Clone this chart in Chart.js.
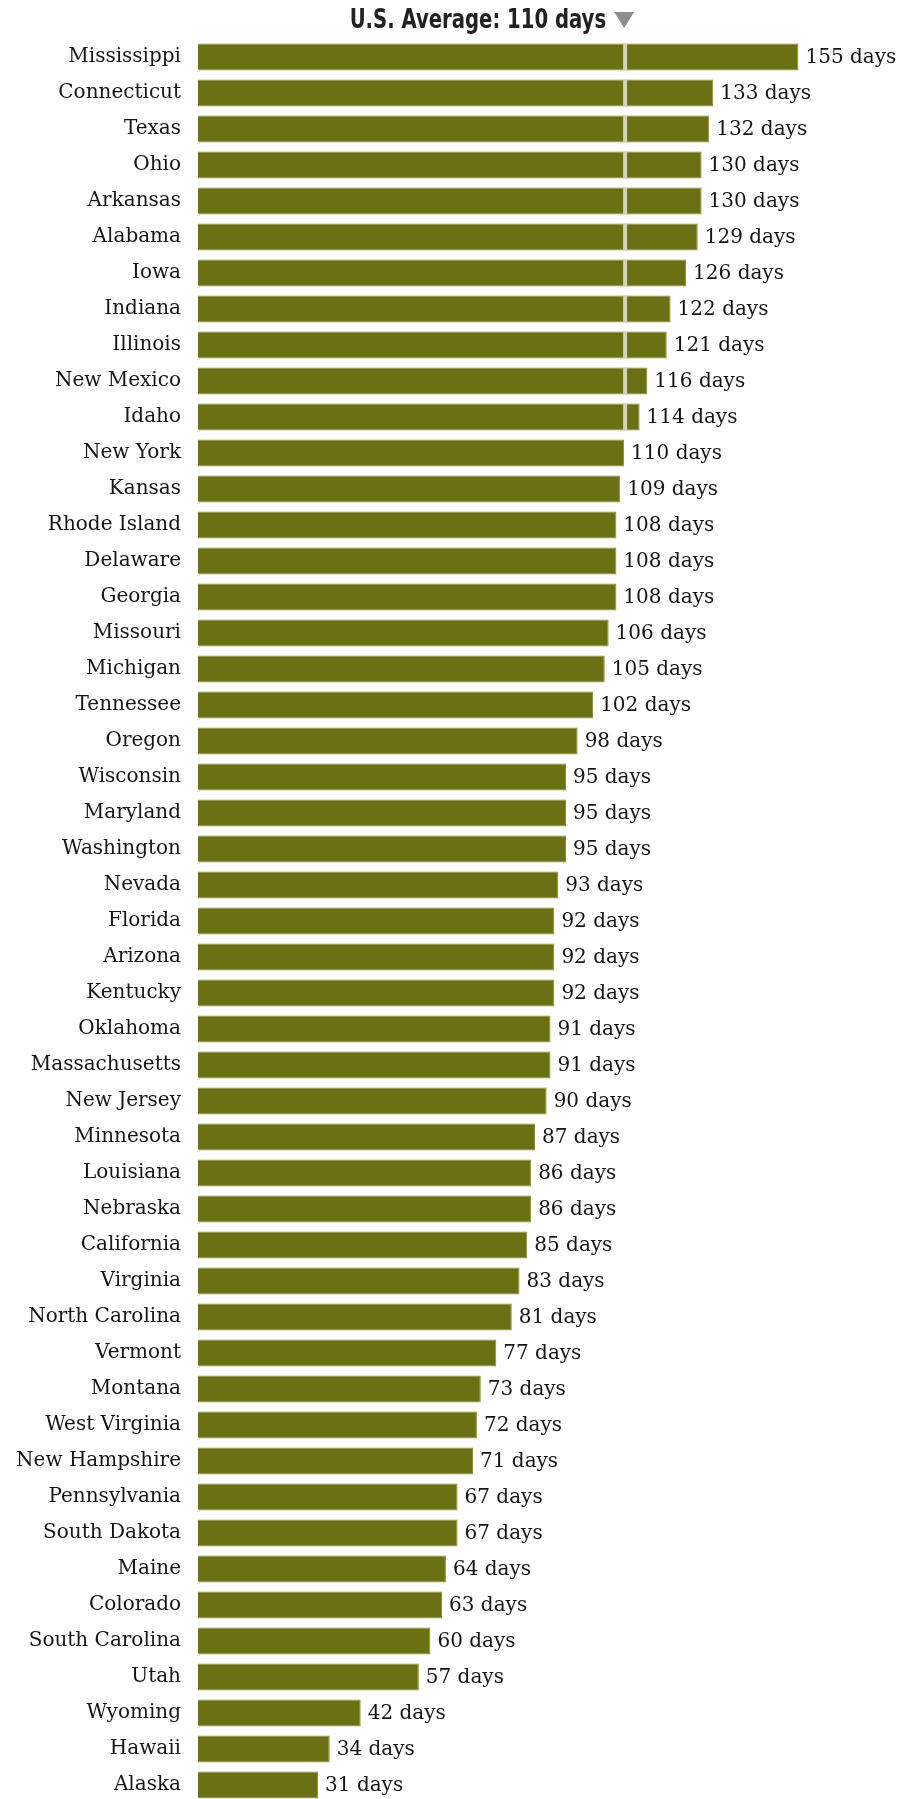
<!DOCTYPE html>
<html>
<head>
<meta charset="utf-8">
<script src="https://cdn.jsdelivr.net/npm/chart.js@4.4.0/dist/chart.umd.min.js"></script>
<style>
  html, body { margin: 0; padding: 0; background: #fff; overflow: hidden; }
  canvas { display: block; }
</style>
</head>
<body>
<canvas id="chart" width="910" height="1803"></canvas>
<script>
const states = [
  "Mississippi", "Connecticut", "Texas", "Ohio", "Arkansas", "Alabama", "Iowa",
  "Indiana", "Illinois", "New Mexico", "Idaho", "New York", "Kansas",
  "Rhode Island", "Delaware", "Georgia", "Missouri", "Michigan", "Tennessee",
  "Oregon", "Wisconsin", "Maryland", "Washington", "Nevada", "Florida",
  "Arizona", "Kentucky", "Oklahoma", "Massachusetts", "New Jersey",
  "Minnesota", "Louisiana", "Nebraska", "California", "Virginia",
  "North Carolina", "Vermont", "Montana", "West Virginia", "New Hampshire",
  "Pennsylvania", "South Dakota", "Maine", "Colorado", "South Carolina",
  "Utah", "Wyoming", "Hawaii", "Alaska"
];
const days = [
  155, 133, 132, 130, 130, 129, 126, 122, 121, 116, 114, 110, 109,
  108, 108, 108, 106, 105, 102, 98, 95, 95, 95, 93, 92,
  92, 92, 91, 91, 90, 87, 86, 86, 85, 83,
  81, 77, 73, 72, 71, 67, 67, 64, 63, 60,
  57, 42, 34, 31
];
const usAverage = 110;
const titleText = "U.S. Average: " + usAverage + " days";

const ctx = document.getElementById("chart").getContext("2d");

// average line (only through bars that pass it), value labels, heading
const extras = {
  id: "extras",
  afterDatasetsDraw(chart) {
    const c = chart.ctx;
    const avgX = chart.scales.x.getPixelForValue(usAverage);
    const bars = chart.getDatasetMeta(0).data;

    c.save();
    c.strokeStyle = "#d3d3b6";
    c.lineWidth = 4;
    bars.forEach((bar, i) => {
      if (days[i] <= usAverage) return;
      const h = bar.height / 2;
      c.beginPath();
      c.moveTo(avgX + 1, bar.y - h);
      c.lineTo(avgX + 1, bar.y + h);
      c.stroke();
    });

    c.fillStyle = "#151515";
    c.font = "20px 'DejaVu Serif'";
    c.textAlign = "left";
    c.textBaseline = "middle";
    bars.forEach((bar, i) => {
      c.fillText(days[i] + " days", bar.x + 7, bar.y + 1);
    });

    // condensed bold heading, squeezed to the narrow look of the original
    c.save();
    c.translate(avgX - 18, 21);
    c.scale(0.84, 1);
    c.font = "bold 26px 'DejaVu Sans Condensed', 'DejaVu Sans', sans-serif";
    c.textAlign = "right";
    c.fillStyle = "#222";
    c.fillText(titleText, 0, 0);
    c.restore();

    c.fillStyle = "#8c8c8c";
    c.beginPath();
    c.moveTo(avgX - 10, 12);
    c.lineTo(avgX + 10, 12);
    c.lineTo(avgX, 28);
    c.closePath();
    c.fill();
    c.restore();
  }
};

new Chart(ctx, {
  type: "bar",
  data: {
    labels: states,
    datasets: [{
      data: days,
      backgroundColor: "#6c7015",
      borderColor: "#878a3e",
      borderWidth: 1,
      barPercentage: 0.75,
      categoryPercentage: 1,
    }],
  },
  options: {
    indexAxis: "y",
    responsive: false,
    animation: false,
    layout: { padding: { top: 39, left: 0, right: 0, bottom: 0 } },
    plugins: {
      legend: { display: false },
      tooltip: { enabled: false },
    },
    scales: {
      x: {
        display: false,
        min: 0,
        max: 183.8,
      },
      y: {
        grid: { display: false, drawTicks: false },
        border: { display: false },
        ticks: {
          color: "#151515",
          padding: 17,
          font: { family: "DejaVu Serif", size: 20 },
          autoSkip: false,
        },
        afterFit(scale) {
          scale.width = 198;
          scale.paddingTop = 0;
          scale.paddingBottom = 0;
        },
      },
    },
  },
  plugins: [extras],
});
</script>
</body>
</html>
